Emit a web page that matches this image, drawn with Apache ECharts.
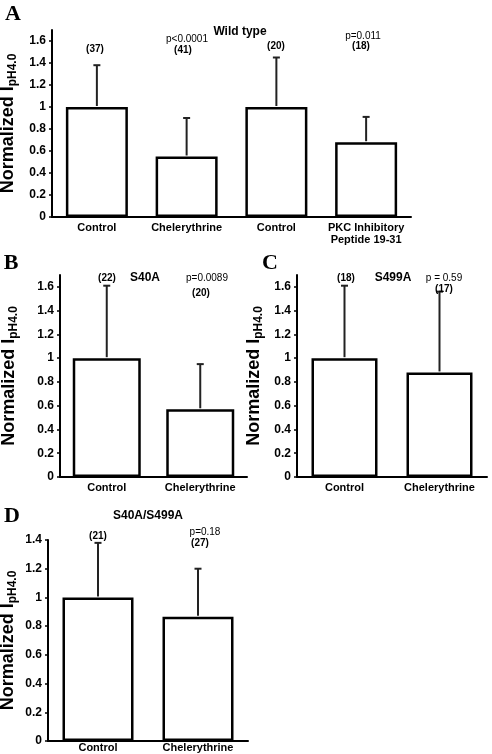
<!DOCTYPE html>
<html>
<head>
<meta charset="utf-8">
<script src="https://cdn.jsdelivr.net/npm/echarts@6/dist/echarts.min.js"></script>
<style>
html,body{margin:0;padding:0;background:#fff;}
#chart{width:492px;height:754px;}
</style>
</head>
<body>
<div id="chart"></div>
<script>
// ---------- data ----------
var catsA = ['Control', 'Chelerythrine', 'Control', 'PKC Inhibitory\nPeptide 19-31'];
var meanA = [1.0, 0.55, 1.0, 0.68];
var sdA   = [0.38, 0.35, 0.45, 0.23];

var catsB = ['Control', 'Chelerythrine'];
var meanB = [1.0, 0.57];
var sdB   = [0.61, 0.38];

var catsC = ['Control', 'Chelerythrine'];
var meanC = [1.0, 0.88];
var sdC   = [0.61, 0.68];

var catsD = ['Control', 'Chelerythrine'];
var meanD = [1.0, 0.865];
var sdD   = [0.38, 0.335];

var ticksABC = [0, 0.2, 0.4, 0.6, 0.8, 1, 1.2, 1.4, 1.6];
var ticksD   = [0, 0.2, 0.4, 0.6, 0.8, 1, 1.2, 1.4];

var panelLetters = ['A', 'B', 'C', 'D'];
var panelTitles  = ['Wild type', 'S40A', 'S499A', 'S40A/S499A'];
var nA = ['(37)', '(41)', '(20)', '(18)'];
var pA = ['p<0.0001', 'p=0.011'];
var nB = ['(22)', '(20)'];
var pB = ['p=0.0089'];
var nC = ['(18)', '(17)'];
var pC = ['p = 0.59'];
var nD = ['(21)', '(27)'];
var pD = ['p=0.18'];

// ---------- layout / style ----------
var FONT = '"Liberation Sans", Arial, sans-serif';
var SERIF = '"Liberation Serif", "Times New Roman", serif';

var grids = [
  {left: 52, top: 30, width: 359, height: 187, max: 1.7, ticks: ticksABC, gap: 32, barWidth: 62, labelMargin: 5},
  {left: 60, top: 275, width: 187, height: 202, max: 1.7, ticks: ticksABC, gap: 40, barWidth: 68, labelMargin: 5},
  {left: 297, top: 275, width: 190, height: 202, max: 1.7, ticks: ticksABC, gap: 32, barWidth: 66, labelMargin: 5},
  {left: 48, top: 540, width: 200, height: 201, max: 1.4, ticks: ticksD, gap: 29, barWidth: 71, labelMargin: 1}
];
var cats = [catsA, catsB, catsC, catsD];
var means = [meanA, meanB, meanC, meanD];
var sds = [sdA, sdB, sdC, sdD];

var option = {
  backgroundColor: '#fff',
  animation: false,
  grid: [], xAxis: [], yAxis: [], series: [], graphic: []
};

grids.forEach(function (g, i) {
  option.grid.push({left: g.left, top: g.top, width: g.width, height: g.height, containLabel: false, outerBoundsMode: 'none'});
  option.xAxis.push({
    type: 'category', gridIndex: i, data: cats[i],
    axisLine: {show: true, lineStyle: {color: '#000', width: 2}},
    axisTick: {show: false},
    splitLine: {show: false},
    axisLabel: {color: '#000', fontFamily: FONT, fontWeight: 'bold', fontSize: 11, margin: g.labelMargin, lineHeight: 12, interval: 0}
  });
  option.yAxis.push({
    type: 'value', gridIndex: i, min: 0, max: g.max, interval: 0.2,
    name: '{m|Normalized I}{s|pH4.0}',
    nameLocation: 'middle', nameGap: g.gap,
    nameTextStyle: {
      rich: {
        m: {fontFamily: FONT, fontWeight: 'bold', fontSize: 18, lineHeight: 22, color: '#000'},
        s: {fontFamily: FONT, fontWeight: 'bold', fontSize: 12, lineHeight: 12, padding: [9, 0, 0, 0], color: '#000'}
      }
    },
    axisLine: {show: true, lineStyle: {color: '#000', width: 2}},
    axisTick: {show: true, length: 3, lineStyle: {color: '#000', width: 1.5}, customValues: g.ticks},
    splitLine: {show: false},
    axisLabel: {color: '#000', fontFamily: FONT, fontWeight: 'bold', fontSize: 12, margin: 6, customValues: g.ticks,
      formatter: function (v) { return String(Math.round(v * 10) / 10); }}
  });
  option.series.push({
    type: 'bar', xAxisIndex: i, yAxisIndex: i, data: means[i], barWidth: g.barWidth,
    itemStyle: {color: '#fff', borderColor: '#000', borderWidth: 2.5},
    z: 2
  });
  option.series.push({
    type: 'custom', xAxisIndex: i, yAxisIndex: i, z: 3,
    data: means[i].map(function (m, k) { return [k, m, m + sds[i][k]]; }),
    renderItem: function (params, api) {
      var p0 = api.coord([api.value(0), api.value(1)]);
      var p1 = api.coord([api.value(0), api.value(2)]);
      var st = {stroke: '#222', lineWidth: 2};
      return {type: 'group', children: [
        {type: 'line', shape: {x1: p0[0], y1: p0[1] - 1, x2: p1[0], y2: p1[1]}, style: st},
        {type: 'line', shape: {x1: p1[0] - 3.5, y1: p1[1], x2: p1[0] + 3.5, y2: p1[1]}, style: st}
      ]};
    }
  });
});

function txt(t, x, y, size, weight, family) {
  option.graphic.push({type: 'text', x: x, y: y, z: 10, silent: true,
    style: {text: t, fill: '#000', fontSize: size, fontWeight: weight, fontFamily: family || FONT, align: 'center', verticalAlign: 'middle'}});
}
// panel letters
txt(panelLetters[0], 13, 14, 22, 'bold', SERIF);
txt(panelLetters[1], 11, 263, 22, 'bold', SERIF);
txt(panelLetters[2], 270, 263, 22, 'bold', SERIF);
txt(panelLetters[3], 12, 516, 22, 'bold', SERIF);
// titles
txt(panelTitles[0], 240, 32, 12, 'bold');
txt(panelTitles[1], 145, 278, 12, 'bold');
txt(panelTitles[2], 393, 278, 12, 'bold');
txt(panelTitles[3], 148, 516, 12, 'bold');
// A annotations
txt(nA[0], 95, 49, 10, 'bold');
txt(pA[0], 187, 39, 10, 'normal');
txt(nA[1], 183, 50, 10, 'bold');
txt(nA[2], 276, 46, 10, 'bold');
txt(pA[1], 363, 36, 10, 'normal');
txt(nA[3], 361, 46, 10, 'bold');
// B annotations
txt(nB[0], 107, 278, 10, 'bold');
txt(pB[0], 207, 278, 10, 'normal');
txt(nB[1], 201, 293, 10, 'bold');
// C annotations
txt(nC[0], 346, 278, 10, 'bold');
txt(pC[0], 444, 278, 10, 'normal');
txt(nC[1], 444, 289, 10, 'bold');
// D annotations
txt(nD[0], 98, 536, 10, 'bold');
txt(pD[0], 205, 532, 10, 'normal');
txt(nD[1], 200, 543, 10, 'bold');

var chart = echarts.init(document.getElementById('chart'), null, {renderer: 'canvas'});
chart.setOption(option);
</script>
</body>
</html>
